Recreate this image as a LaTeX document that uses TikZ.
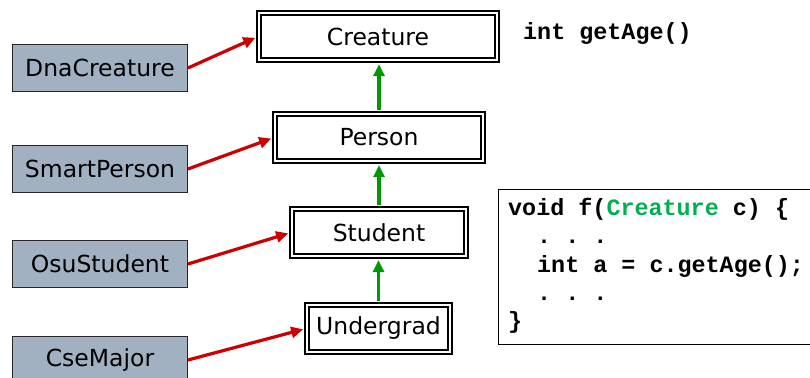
\documentclass[tikz,border=0pt]{standalone}
\usepackage{fontspec}
\setmainfont{DejaVu Sans}
\newfontfamily\codefont{Liberation Mono}
\usetikzlibrary{arrows.meta}
\definecolor{slate}{HTML}{A2B1C1}
\definecolor{redarr}{HTML}{CC0000}
\definecolor{greenarr}{HTML}{009900}
\definecolor{codegreen}{HTML}{00B050}
\tikzset{
  classbox/.style={draw=black, line width=2.4pt, double=white, double distance=1.6pt,
    inner sep=0pt, minimum height=46.5pt, font=\fontsize{23.5}{27}\selectfont},
  subbox/.style={draw=black!85, line width=0.9pt, fill=slate, inner sep=0pt,
    minimum width=175pt, minimum height=47pt, font=\fontsize{23.5}{27}\selectfont},
  redarrow/.style={draw=redarr, line width=3.2pt, -{Triangle[length=12pt,width=11pt]}, shorten >=3pt},
  greenarrow/.style={draw=greenarr, line width=3.2pt, -{Triangle[length=12pt,width=11pt]}, shorten >=3.2pt, shorten <=3.2pt},
  codeline/.style={anchor=base west, inner sep=0pt, font=\codefont\bfseries\fontsize{23.4}{26}\selectfont\frenchspacing}
}
\begin{document}
\begin{tikzpicture}[x=1pt,y=-1pt]
\useasboundingbox (0,0) rectangle (810,377);
% class hierarchy
\node[classbox, minimum width=237.5pt] (creature) at (378,36.5) {Creature};
\node[classbox, minimum width=207.5pt] (person) at (379,137.5) {Person};
\node[classbox, minimum width=173.5pt] (student) at (379,232.5) {Student};
\node[classbox, minimum width=142.5pt] (undergrad) at (378.5,328.5) {Undergrad};
\draw[greenarrow] (person.north) -- (person.north |- creature.south);
\draw[greenarrow] (student.north) -- (person.north |- person.south);
\draw[greenarrow] (undergrad.north) -- (undergrad.north |- student.south);
% left boxes
\node[subbox] (dna) at (100,68) {DnaCreature};
\node[subbox] (smart) at (100,169) {SmartPerson};
\node[subbox] (osu) at (100,264) {OsuStudent};
\node[subbox] (cse) at (100,360) {CseMajor};
\draw[redarrow] (dna.east) -- (creature.west);
\draw[redarrow] (smart.east) -- (person.west);
\draw[redarrow] (osu.east) -- (student.west);
\draw[redarrow] (cse.east) -- (undergrad.west);
% code
\node[codeline] (getage) at (523,40) {int getAge()};
\node[draw=black, line width=1.2pt, anchor=north west, inner sep=0pt,
  minimum width=316pt, minimum height=155pt] (codebox) at (498,189) {};
\node[codeline] (c1) at (508,215) {void f(\textcolor{codegreen}{Creature} c) \{};
\node[codeline] (c2) at (537,243) {. . .};
\node[codeline] (c3) at (537,272) {int a = c.getAge();};
\node[codeline] (c4) at (537,300) {. . .};
\node[codeline] (c5) at (508,328) {\}};
\end{tikzpicture}
\end{document}
